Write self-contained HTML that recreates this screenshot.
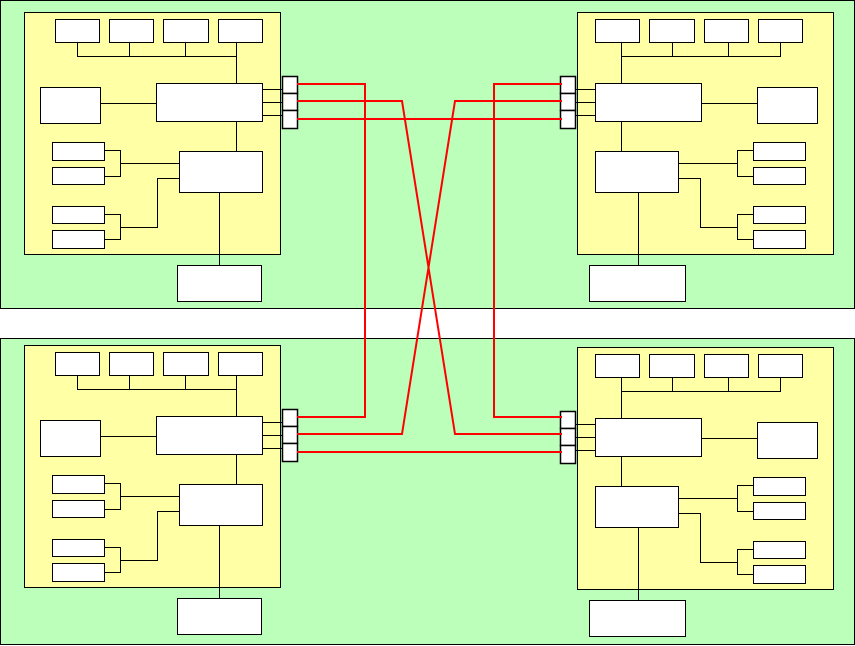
<!DOCTYPE html>
<html><head><meta charset="utf-8"><style>html,body{margin:0;padding:0;background:#fff}svg{display:block}</style></head>
<body>
<svg width="855" height="646" viewBox="0 0 855 646" xmlns="http://www.w3.org/2000/svg">
<defs>
<g id="p" stroke="#000" stroke-width="1" fill="#fff">
  <rect x="24.5" y="12.5" width="256" height="242" fill="#ffffa6"/>
  <rect x="55.5" y="19.5" width="44" height="23"/>
  <rect x="109.5" y="19.5" width="44" height="23"/>
  <rect x="163.5" y="19.5" width="45" height="23"/>
  <rect x="218.5" y="19.5" width="44" height="23"/>
  <path d="M77.5 42.5V56.5H236.5M129.5 42.5V56.5M185.5 42.5V56.5M236.5 42.5V83.5" fill="none"/>
  <rect x="40.5" y="87.5" width="60" height="36"/>
  <path d="M100.5 103.5H156.5" fill="none"/>
  <rect x="156.5" y="83.5" width="106" height="38"/>
  <path d="M262.5 89.5H282.5M262.5 102.5H282.5M262.5 115.5H282.5M236.5 121.5V151.5" fill="none"/>
  <rect x="282.5" y="76.5" width="15" height="17" stroke-width="1.5"/>
  <rect x="282.5" y="93.5" width="15" height="17" stroke-width="1.5"/>
  <rect x="282.5" y="110.5" width="15" height="18" stroke-width="1.5"/>
  <rect x="179.5" y="151.5" width="83" height="41"/>
  <rect x="52.5" y="142.5" width="52" height="18"/>
  <rect x="52.5" y="167.5" width="52" height="17"/>
  <rect x="52.5" y="206.5" width="52" height="17"/>
  <rect x="52.5" y="230.5" width="52" height="18"/>
  <path d="M104.5 150.5H120.5V176.5H104.5M120.5 163.5H179.5M104.5 214.5H120.5V239.5H104.5M120.5 227.5H157.5V178.5H179.5M219.5 192.5V265.5" fill="none"/>
</g>
</defs>
<rect x="0.5" y="0.5" width="854" height="308" fill="#bbffbb" stroke="#000"/>
<rect x="0.5" y="338.5" width="854" height="306" fill="#bbffbb" stroke="#000"/>
<use href="#p"/>
<use href="#p" transform="translate(858,0) scale(-1,1)"/>
<use href="#p" transform="translate(0,333)"/>
<use href="#p" transform="translate(858,335) scale(-1,1)"/>
<g stroke="#000" fill="#fff">
  <rect x="177.5" y="265.5" width="84" height="36"/>
  <rect x="177.5" y="598.5" width="84" height="36"/>
  <rect x="589.5" y="265.5" width="96" height="36"/>
  <rect x="589.5" y="600.5" width="96" height="36"/>
</g>
<g stroke="#f00" stroke-width="2" fill="none">
  <path d="M297 84H365V417H297"/>
  <path d="M297 101H402L455 434H562"/>
  <path d="M297 119H562"/>
  <path d="M562 84H494V417H562"/>
  <path d="M562 101H455L402 434H297"/>
  <path d="M297 452H562"/>
</g>
</svg>
</body></html>
